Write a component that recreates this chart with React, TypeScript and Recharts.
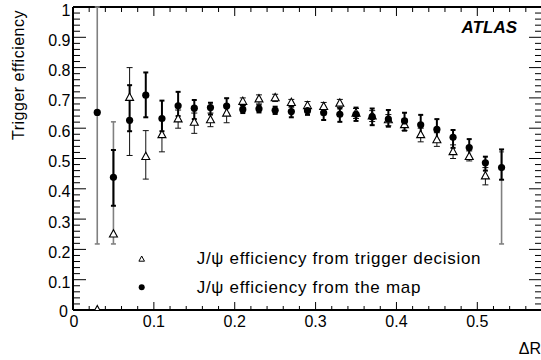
import React from 'react';
import { ScatterChart, Scatter, XAxis, YAxis, ErrorBar, ReferenceLine } from 'recharts';

// ---------- data ----------
const xCenters = [0.03, 0.05, 0.07, 0.09, 0.11, 0.13, 0.15, 0.17, 0.19, 0.21, 0.23, 0.25, 0.27,
  0.29, 0.31, 0.33, 0.35, 0.37, 0.39, 0.41, 0.43, 0.45, 0.47, 0.49, 0.51, 0.53];

// J/psi efficiency from trigger decision (open triangles)
const trigEff = [0.0, 0.25, 0.701, 0.506, 0.578, 0.630, 0.619, 0.627, 0.649, 0.688, 0.696, 0.700, 0.684,
  0.674, 0.671, 0.682, 0.649, 0.640, 0.627, 0.611, 0.578, 0.561, 0.522, 0.506, 0.442, null];
const trigLow = [null, null, 0.51, 0.432, 0.522, 0.60, 0.583, 0.605, 0.618, 0.675, 0.68, 0.688, 0.67,
  0.66, 0.655, 0.668, 0.632, 0.622, 0.608, 0.592, 0.555, 0.54, 0.50, 0.492, 0.413, null];
const trigHigh = [null, null, 0.80, 0.592, 0.63, 0.66, 0.65, 0.65, 0.675, 0.70, 0.71, 0.712, 0.695,
  0.688, 0.685, 0.695, 0.665, 0.658, 0.645, 0.63, 0.60, 0.585, 0.545, 0.525, 0.47, null];
const trigWideLow = [null, 0.218, null, null, null, null, null, null, null, null, null, null, null,
  null, null, null, null, null, null, null, null, null, null, null, null, null];
const trigWideHigh = [null, 0.621, null, null, null, null, null, null, null, null, null, null, null,
  null, null, null, null, null, null, null, null, null, null, null, null, null];

// J/psi efficiency from the map (filled circles)
const mapEff = [0.652, 0.438, 0.626, 0.709, 0.632, 0.674, 0.666, 0.668, 0.673, 0.662, 0.664, 0.659, 0.655,
  0.658, 0.651, 0.646, 0.646, 0.638, 0.630, 0.624, 0.611, 0.596, 0.570, 0.536, 0.486, 0.470];
const mapLow = [null, 0.344, 0.59, 0.636, 0.59, 0.64, 0.63, 0.645, 0.65, 0.65, 0.652, 0.647, 0.636,
  0.644, 0.627, 0.621, 0.624, 0.61, 0.605, 0.592, 0.575, 0.56, 0.535, 0.50, 0.46, 0.43];
const mapHigh = [null, 0.528, 0.742, 0.784, 0.691, 0.72, 0.693, 0.684, 0.699, 0.675, 0.676, 0.671, 0.672,
  0.672, 0.668, 0.665, 0.668, 0.665, 0.66, 0.651, 0.644, 0.63, 0.594, 0.564, 0.506, 0.53];
const mapWideLow = [0.218, null, null, null, null, null, null, null, null, null, null, null, null,
  null, null, null, null, null, null, null, null, null, null, null, null, 0.218];
const mapWideHigh = [1.0, null, null, null, null, null, null, null, null, null, null, null, null,
  null, null, null, null, null, null, null, null, null, null, null, null, 0.522];

const xTicks = [0, 0.02, 0.04, 0.06, 0.08, 0.1, 0.12, 0.14, 0.16, 0.18, 0.2, 0.22, 0.24, 0.26, 0.28,
  0.3, 0.32, 0.34, 0.36, 0.38, 0.4, 0.42, 0.44, 0.46, 0.48, 0.5, 0.52, 0.54, 0.56, 0.58];
const yTicks = [0, 0.02, 0.04, 0.06, 0.08, 0.1, 0.12, 0.14, 0.16, 0.18, 0.2, 0.22, 0.24, 0.26, 0.28,
  0.3, 0.32, 0.34, 0.36, 0.38, 0.4, 0.42, 0.44, 0.46, 0.48, 0.5, 0.52, 0.54, 0.56, 0.58, 0.6, 0.62,
  0.64, 0.66, 0.68, 0.7, 0.72, 0.74, 0.76, 0.78, 0.8, 0.82, 0.84, 0.86, 0.88, 0.9, 0.92, 0.94, 0.96,
  0.98, 1];

const seriesNames = ['J/\u03c8 efficiency from trigger decision', 'J/\u03c8 efficiency from the map'];
const yTitle = 'Trigger efficiency';
const xTitle = '\u0394R';
const experiment = 'ATLAS';

// ---------- build rows ----------
const delta = (v: number | null, lo: number | null, hi: number | null) =>
  v == null || lo == null || hi == null ? undefined : [v - lo, hi - v];

const trigRows = xCenters
  .map((x, i) => ({
    x,
    y: trigEff[i],
    err: delta(trigEff[i], trigLow[i], trigHigh[i]),
    wide: delta(trigEff[i], trigWideLow[i], trigWideHigh[i]),
  }))
  .filter((r) => r.y != null);

const mapRows = xCenters.map((x, i) => ({
  x,
  y: mapEff[i],
  err: delta(mapEff[i], mapLow[i], mapHigh[i]),
  wide: delta(mapEff[i], mapWideLow[i], mapWideHigh[i]),
}));

// ---------- layout ----------
const FONT = '"Liberation Sans", Arial, Helvetica, sans-serif';
const CHART_W = 542;
const CHART_H = 360;
const MARGIN = { top: 7, right: 0, bottom: 0, left: 0 };
const Y_AXIS_W = 73;
const X_AXIS_H = 50;
const PLOT_TOP = MARGIN.top;
const PLOT_RIGHT = CHART_W - MARGIN.right;

const isMajor = (v: number) => Math.abs(v * 10 - Math.round(v * 10)) < 1e-6;
const fmt = (v: number) => (Math.abs(v) < 1e-9 ? '0' : Math.abs(v - 1) < 1e-9 ? '1' : v.toFixed(1));

function XTick(props: any) {
  const { x, y, payload } = props;
  const v = payload.value as number;
  const major = isMajor(v);
  return (
    <g>
      <line x1={x} x2={x} y1={y} y2={y - (major ? 8 : 4)} stroke="#000" strokeWidth={1} />
      <line x1={x} x2={x} y1={PLOT_TOP} y2={PLOT_TOP + (major ? 9 : 5)} stroke="#000" strokeWidth={1} />
      {major && (
        <text x={x + (v === 0 ? 1 : 0)} y={y + 17} textAnchor="middle" fontFamily={FONT} fontSize={16} fill="#000">
          {fmt(v)}
        </text>
      )}
    </g>
  );
}

function YTick(props: any) {
  const { x, y, payload } = props;
  const v = payload.value as number;
  const major = isMajor(v);
  const len = major ? 13 : 7;
  return (
    <g>
      <line x1={x} x2={x + len} y1={y} y2={y} stroke="#000" strokeWidth={1} />
      <line x1={PLOT_RIGHT} x2={PLOT_RIGHT - len} y1={y} y2={y} stroke="#000" strokeWidth={1} />
      {major && (
        <text
          x={x - (v === 0 ? 5 : 2.5)}
          y={y + (v === 0 ? 6.5 : 8.5)}
          textAnchor="end"
          fontFamily={FONT}
          fontSize={16}
          fill="#000"
        >
          {fmt(v)}
        </text>
      )}
    </g>
  );
}

const Triangle = (props: any) => {
  const { cx, cy } = props;
  if (cx == null || cy == null) return null;
  const pts = `${cx},${cy - 4.5} ${cx - 4},${cy + 2.8} ${cx + 4},${cy + 2.8}`;
  return <polygon points={pts} fill="#fff" stroke="#000" strokeWidth={1.1} />;
};

const Dot = (props: any) => {
  const { cx, cy } = props;
  if (cx == null || cy == null) return null;
  return <circle cx={cx} cy={cy} r={3.6} fill="#000" />;
};

export default function App() {
  return (
    <div
      style={{
        position: 'absolute',
        left: 0,
        top: 0,
        width: 541,
        height: 360,
        overflow: 'hidden',
        background: '#fff',
        fontFamily: FONT,
      }}
    >
      <ScatterChart width={CHART_W} height={CHART_H} margin={MARGIN}>
        <XAxis
          type="number"
          dataKey="x"
          domain={[0, 0.58]}
          allowDataOverflow
          ticks={xTicks}
          interval={0}
          height={X_AXIS_H}
          tickSize={0}
          tickMargin={0}
          tickLine={false}
          axisLine={{ stroke: '#000', strokeWidth: 2 }}
          tick={<XTick />}
        />
        <YAxis
          type="number"
          dataKey="y"
          domain={[0, 1]}
          allowDataOverflow
          ticks={yTicks}
          interval={0}
          width={Y_AXIS_W}
          tickSize={0}
          tickMargin={0}
          tickLine={false}
          axisLine={{ stroke: '#000', strokeWidth: 2 }}
          tick={<YTick />}
        />
        <ReferenceLine y={1} stroke="#000" strokeWidth={2} />
        <Scatter data={trigRows} name={seriesNames[0]} shape={<Triangle />} isAnimationActive={false}>
          <ErrorBar dataKey="wide" direction="y" width={2.5} stroke="#808080" strokeWidth={1.6} />
          <ErrorBar dataKey="err" direction="y" width={3} stroke="#111" strokeWidth={1} />
        </Scatter>
        <Scatter data={mapRows} name={seriesNames[1]} shape={<Dot />} isAnimationActive={false}>
          <ErrorBar dataKey="wide" direction="y" width={2.5} stroke="#808080" strokeWidth={1.6} />
          <ErrorBar dataKey="err" direction="y" width={2.5} stroke="#000" strokeWidth={2} />
        </Scatter>
      </ScatterChart>
      <svg
        width={541}
        height={360}
        style={{ position: 'absolute', left: 0, top: 0, pointerEvents: 'none' }}
      >
        <text
          transform="translate(23.5,10) rotate(-90)"
          textAnchor="end"
          fontFamily={FONT}
          fontSize={16}
          letterSpacing={0.5}
          fill="#000"
        >
          {yTitle}
        </text>
        <text x={541} y={354} textAnchor="end" fontFamily={FONT} fontSize={16} fill="#000">
          {xTitle}
        </text>
        <text
          x={517}
          y={33}
          textAnchor="end"
          fontFamily={FONT}
          fontSize={17}
          fontWeight="bold"
          fontStyle="italic"
          fill="#000"
        >
          {experiment}
        </text>
        <polygon points="141.7,256 138.9,261.2 144.5,261.2" fill="#fff" stroke="#000" strokeWidth={1} />
        <circle cx={141.7} cy={287.3} r={3} fill="#000" />
        <text x={196.7} y={264.3} fontFamily={FONT} fontSize={17} letterSpacing={0.7} fill="#000">
          {seriesNames[0]}
        </text>
        <text x={196.7} y={292.7} fontFamily={FONT} fontSize={17} letterSpacing={0.7} fill="#000">
          {seriesNames[1]}
        </text>
      </svg>
    </div>
  );
}
